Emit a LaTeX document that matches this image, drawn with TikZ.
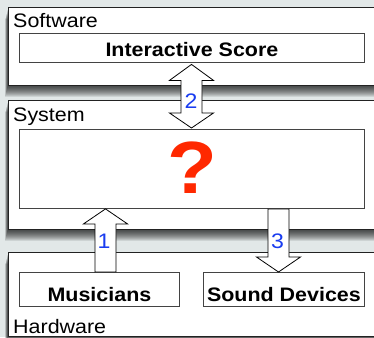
\documentclass[tikz,border=0pt]{standalone}
\usepackage{fontspec}
\setmainfont{Liberation Sans}
\usepackage{graphicx}
\usetikzlibrary{calc}
\definecolor{bg}{RGB}{226,232,232}
\definecolor{edge}{RGB}{34,34,34}
\definecolor{qred}{RGB}{255,40,0}
\definecolor{nblue}{RGB}{25,60,240}
\newcommand{\wide}[1]{\scalebox{1.1}[1]{#1}}
\begin{document}
\begin{tikzpicture}[x=1pt,y=-1pt,
  outer/.style={draw=edge,line width=1.3pt,fill=white,anchor=north west,inner sep=0pt},
  inbox/.style={draw=edge!85,line width=0.9pt,fill=white,anchor=north west,inner sep=0pt,font=\fontsize{19.5}{20}\selectfont\bfseries,text depth=0pt},
  layer/.style={font=\fontsize{19.5}{20}\selectfont,anchor=base west,inner sep=0pt},
  num/.style={font=\fontsize{21}{22}\selectfont,text=nblue,anchor=base,inner sep=0pt},
  barrow/.style={draw=black,line width=0.8pt,fill=white,line join=miter}]
\useasboundingbox (0,0) rectangle (374,337);
\clip (0,0) rectangle (374,337);
\fill[bg] (0,0) rectangle (374,337);
% shadows
\foreach \a/\b in {7/85,100/229,252/335}{
  \foreach \k in {1,...,12}{
    \fill[black,opacity=0.09] (8-\k*0.25,\a+\k) rectangle (390,\b+\k);
  }
}
% layer boxes
\node[outer,minimum width=380pt,minimum height=78pt] (soft) at (8,7) {};
\node[outer,minimum width=380pt,minimum height=129pt] (sys) at (8,100) {};
\node[outer,minimum width=380pt,minimum height=83.5pt] (hard) at (8,252) {};
% inner boxes
\node[inbox,minimum width=345pt,minimum height=29pt,text height=17pt] (is) at (19,33) {\wide{Interactive Score}};
\node[inbox,minimum width=345pt,minimum height=79pt,text height=49pt,font=\fontsize{74}{74}\selectfont\bfseries,text=qred] (q) at (19,129) {\wide{?}};
\node[inbox,minimum width=160pt,minimum height=34pt,text height=25pt] (mus) at (19,272) {\wide{Musicians}};
\node[inbox,minimum width=161pt,minimum height=34pt,text height=25pt] (snd) at (203,272) {\wide{Sound Devices}};
% layer labels
\node[layer] (lsoft) at (13,28) {\wide{Software}};
\node[layer] (lsys) at (13,121) {\wide{System}};
\node[layer] (lhard) at (13,333) {\wide{Hardware}};
% arrow 2 (double)
\coordinate (t2a) at ($(191.5,0 |- is.south)+(0,1.5)$);
\coordinate (t2b) at ($(191.5,0 |- q.north)+(0,-1)$);
\draw[barrow] (t2a) -- ++(22,16) -- ++(-11.5,0) -- ($(t2b)+(10.5,-15)$) -- ++(11.5,0) -- (t2b) -- ++(-22,-15) -- ++(11.5,0) -- ($(t2a)+(-10.5,16)$) -- ++(-11.5,0) -- cycle;
% arrow 1 (up)
\coordinate (t1) at (105.5,0 |- q.south);
\coordinate (b1) at (105.5,0 |- mus.north);
\draw[barrow] (t1) -- ++(22,15) -- ++(-11.5,0) -- ($(b1)+(10.5,0)$) -- ++(-21,0) -- ($(t1)+(-10.5,15)$) -- ++(-11.5,0) -- cycle;
% arrow 3 (down)
\coordinate (t3s) at (278.5,0 |- q.south);
\coordinate (t3) at (278.5,0 |- snd.north);
\draw[barrow] (t3) -- ++(22,-15) -- ++(-11.5,0) -- ($(t3s)+(10.5,0)$) -- ++(-21,0) -- ($(t3)+(-10.5,-15)$) -- ++(-11.5,0) -- cycle;
% numbers
\node[num] (n2) at (191,108.3) {\wide{2}};
\node[num] (n1) at (104,248.3) {\wide{1}};
\node[num] (n3) at (277.5,248.3) {\wide{3}};
\end{tikzpicture}
\end{document}
